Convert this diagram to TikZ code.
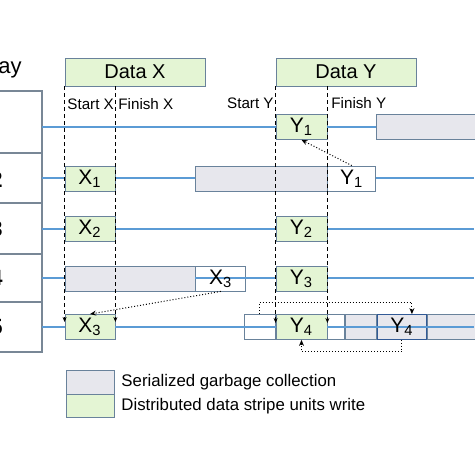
\documentclass[tikz,border=0pt]{standalone}
\usepackage{fontspec}
\setmainfont{Liberation Sans}
\usetikzlibrary{arrows.meta,positioning}
\definecolor{rowblue}{RGB}{91,155,213}
\definecolor{wrgreen}{RGB}{228,245,212}
\definecolor{gcgray}{RGB}{231,231,237}
\definecolor{cellline}{RGB}{105,130,155}
\definecolor{darkcell}{RGB}{50,90,150}
\definecolor{arrayline}{RGB}{120,135,150}
\begin{document}
\begin{tikzpicture}[x=0.5pt, y=-0.5pt, font=\fontsize{10.5}{12}\selectfont,
	cell/.style={draw=cellline, inner sep=0pt, minimum height=12.5pt},
	wr/.style={cell, fill=wrgreen},
	gc/.style={cell, fill=gcgray},
	free/.style={cell, fill=white},
	row/.style={rowblue, line width=1pt},
	guide/.style={dash pattern=on 2pt off 1.5pt, line width=0.5pt, -{Stealth[length=2.5pt,width=2pt]}},
	link/.style={densely dotted, line width=0.5pt, -{Stealth[length=3pt,width=2.5pt]}}]
	\useasboundingbox (0,0) rectangle (474,474);
	%array
	\draw[arrayline, line width=0.7pt] (-10,91) -- (42,91) -- (42,352) -- (-10,352);
	\foreach \y in {153,203,254,302}
	\draw[arrayline, line width=0.7pt] (-10,\y) -- (42,\y);
	\node[anchor=east, inner sep=0pt, font=\fontsize{11}{13}\selectfont] (array) at (22,68) {Array};
	\foreach \i/\y in {2/180,3/229,4/278,5/327}
	\node[anchor=east, inner sep=0pt, font=\fontsize{11}{13}\bfseries] (disk\i) at (3,\y) {\i};
	\foreach \i/\y in {1/127,2/178.5,3/229,4/278.5,5/327}
	{
		\coordinate (l\i) at (42,\y);
		\coordinate (e\i) at (474,\y);
	}
	%data
	\node[wr, minimum width=70pt, minimum height=14pt, font=\fontsize{10}{12}\selectfont] (datax) at (135,72) {Data X};
	\node[wr, minimum width=70pt, minimum height=14pt, font=\fontsize{10}{12}\selectfont] (datay) at (346,72) {Data Y};
	%row 1
	\node[wr, minimum width=25.5pt] (y1a) at (301.5,127) {Y\textsubscript{1}};
	\node[gc, minimum width=57pt] (g1) at (433,127) {};
	%row 2
	\node[wr, minimum width=25pt] (x1a) at (90,178.5) {X\textsubscript{1}};
	\node[gc, minimum width=66pt] (g2) at (261,178.5) {};
	\node[free, minimum width=24pt, right=0pt of g2] (y1b) {Y\textsubscript{1}};
	%row 3
	\node[wr, minimum width=25pt] (x2) at (90,229) {X\textsubscript{2}};
	\node[wr, minimum width=25.5pt] (y2) at (301.5,229) {Y\textsubscript{2}};
	%row 4
	\node[gc, minimum width=65pt] (g4) at (130,278.5) {};
	\node[free, minimum width=25pt, right=0pt of g4] (x3b) {};
	\node[wr, minimum width=25.5pt] (y3) at (301.5,278.5) {Y\textsubscript{3}};
	%row 5
	\node[wr, minimum width=25pt] (x3a) at (90,327) {X\textsubscript{3}};
	\node[wr, minimum width=25.5pt] (y4a) at (301.5,327) {Y\textsubscript{4}};
	\node[free, minimum width=15.5pt, left=0pt of y4a] (f5a) {};
	\node[free, minimum width=8.5pt, right=0pt of y4a] (f5b) {};
	\node[gc, minimum width=15.5pt, right=0pt of f5b] (g5a) {};
	\node[gc, draw=darkcell, minimum width=24.5pt, right=0pt of g5a] (y4b) {};
	\node[gc, minimum width=33pt, right=0pt of y4b] (g5b) {};
	%stripe lines
	\draw[row] (l1) -- (y1a.west);
	\draw[row] (y1a.east) -- (g1.west);
	\draw[row] (l2) -- (x1a.west);
	\draw[row] (x1a.east) -- (g2.west);
	\draw[row] (y1b.east) -- (e2);
	\draw[row] (l3) -- (x2.west);
	\draw[row] (x2.east) -- (y2.west);
	\draw[row] (y2.east) -- (e3);
	\draw[row] (l4) -- (g4.west);
	\draw[row] (g4.east) -- (y3.west);
	\draw[row] (y3.east) -- (e4);
	\draw[row] (l5) -- (x3a.west);
	\draw[row] (x3a.east) -- (y4a.west);
	\draw[row] (y4a.east) -- (e5);
	\node[inner sep=0pt] (y4btext) at (y4b) {Y\textsubscript{4}};
	\node[inner sep=0pt] (x3btext) at (x3b) {X\textsubscript{3}};
	%start and finish
	\draw[guide] (datax.south west) -- ([yshift=2.5pt]x3a.west);
	\draw[guide] (x3a.east |- datax.south) -- ([yshift=2.5pt]x3a.east);
	\draw[guide] (datay.south west) -- ([yshift=2pt]y4a.west);
	\draw[guide] (y4a.east |- datay.south) -- ([yshift=2pt]y4a.east);
	\node[anchor=west, inner sep=0pt, font=\fontsize{7.6}{9}\selectfont] (startx) at (67,104) {Start X};
	\node[anchor=west, inner sep=0pt, font=\fontsize{7.6}{9}\selectfont] (finishx) at (118,104) {Finish X};
	\node[anchor=east, inner sep=0pt, font=\fontsize{7.6}{9}\selectfont] (starty) at (274,103) {Start Y};
	\node[anchor=west, inner sep=0pt, font=\fontsize{7.6}{9}\selectfont] (finishy) at (331,103) {Finish Y};
	%moves
	\draw[link] (y1b.north) -- (y1a.south);
	\draw[link] (x3b.south) -- (x3a.north);
	\draw[link] (f5a.north) -- ++(0,-12) -| ([xshift=5pt]y4b.north);
	\draw[link] (y4b.south) -- ++(0,12) -| (y4a.south);
	%legend
	\node[gc, minimum width=24pt, minimum height=12pt] (leggc) at (90,382) {};
	\node[wr, minimum width=24pt, minimum height=11.5pt, below=0pt of leggc] (legwr) {};
	\node[right=0pt of leggc, font=\fontsize{8.4}{10}\selectfont] (leggctext) {Serialized garbage collection};
	\node[right=0pt of legwr, font=\fontsize{8.4}{10}\selectfont] (legwrtext) {Distributed data stripe units write};
\end{tikzpicture}
\end{document}
